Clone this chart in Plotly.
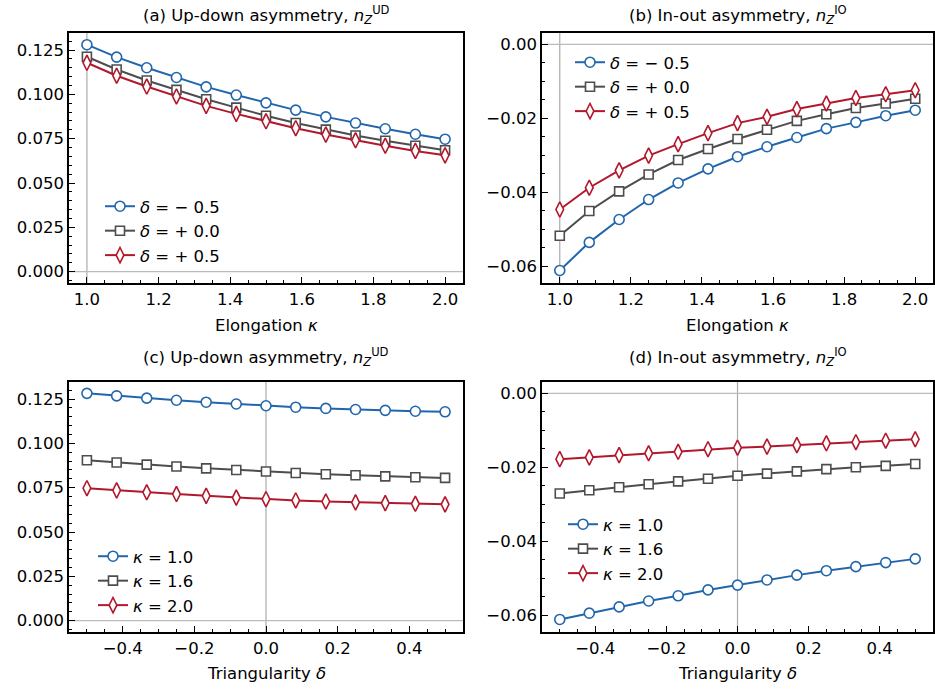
import plotly.graph_objects as go

# ---------------- data ----------------
kappa = [1.0, 1.083, 1.167, 1.25, 1.333, 1.417, 1.5, 1.583, 1.667, 1.75, 1.833, 1.917, 2.0]
delta = [-0.5, -0.417, -0.333, -0.25, -0.167, -0.083, 0.0, 0.083, 0.167, 0.25, 0.333, 0.417, 0.5]

# (a) up-down vs kappa
a_dm05 = [0.1280, 0.1210, 0.1150, 0.1095, 0.1042, 0.0996, 0.0952, 0.0911, 0.0873, 0.0838, 0.0806, 0.0775, 0.0747]
a_d00 = [0.1212, 0.1140, 0.1078, 0.1025, 0.0972, 0.0925, 0.0879, 0.0838, 0.0801, 0.0768, 0.0738, 0.0710, 0.0685]
a_dp05 = [0.1178, 0.1105, 0.1044, 0.0988, 0.0935, 0.0890, 0.0848, 0.0809, 0.0773, 0.0741, 0.0710, 0.0681, 0.0656]

# (b) in-out vs kappa
b_dm05 = [-0.0612, -0.0536, -0.0474, -0.0420, -0.0375, -0.0337, -0.0304, -0.0277, -0.0252, -0.0228, -0.0211, -0.0193, -0.0178]
b_d00 = [-0.0518, -0.0451, -0.0398, -0.0352, -0.0313, -0.0283, -0.0256, -0.0231, -0.0207, -0.0189, -0.0172, -0.0160, -0.0147]
b_dp05 = [-0.0447, -0.0388, -0.0341, -0.0301, -0.0270, -0.0240, -0.0213, -0.0196, -0.0175, -0.0160, -0.0145, -0.0135, -0.0124]

# (c) up-down vs delta
c_k10 = [0.1282, 0.1268, 0.1255, 0.1243, 0.1232, 0.1222, 0.1212, 0.1204, 0.1197, 0.1191, 0.1186, 0.1181, 0.1178]
c_k16 = [0.0905, 0.0892, 0.0880, 0.0869, 0.0859, 0.0850, 0.0841, 0.0833, 0.0826, 0.0820, 0.0814, 0.0809, 0.0805]
c_k20 = [0.0747, 0.0735, 0.0724, 0.0714, 0.0704, 0.0694, 0.0685, 0.0678, 0.0672, 0.0667, 0.0663, 0.0659, 0.0656]

# (d) in-out vs delta
d_k10 = [-0.0612, -0.0595, -0.0578, -0.0562, -0.0548, -0.0532, -0.0519, -0.0505, -0.0492, -0.0480, -0.0469, -0.0458, -0.0448]
d_k16 = [-0.0271, -0.0262, -0.0254, -0.0246, -0.0238, -0.0231, -0.0223, -0.0217, -0.0211, -0.0205, -0.0200, -0.0196, -0.0191]
d_k20 = [-0.0178, -0.0173, -0.0167, -0.0162, -0.0158, -0.0151, -0.0147, -0.0144, -0.0140, -0.0135, -0.0132, -0.0128, -0.0124]

delta_labels = ["<i>δ</i> = − 0.5", "<i>δ</i> = + 0.0", "<i>δ</i> = + 0.5"]
kappa_labels = ["<i>κ</i> = 1.0", "<i>κ</i> = 1.6", "<i>κ</i> = 2.0"]
titles = [
    "(a) Up-down asymmetry, <i>n</i><sub><i>Z</i></sub><sup>UD</sup>",
    "(b) In-out asymmetry, <i>n</i><sub><i>Z</i></sub><sup>IO</sup>",
    "(c) Up-down asymmetry, <i>n</i><sub><i>Z</i></sub><sup>UD</sup>",
    "(d) In-out asymmetry, <i>n</i><sub><i>Z</i></sub><sup>IO</sup>",
]
xlabels = ["Elongation <i>κ</i>", "Elongation <i>κ</i>", "Triangularity <i>δ</i>", "Triangularity <i>δ</i>"]

# ---------------- style ----------------
W, H = 935, 693
FONT = "DejaVu Sans"
FS = 16.5
colors = ["#2166ac", "#4d4d4d", "#b2182b"]
symbols = ["circle", "square", "diamond-tall"]
msizes = [10, 9, 11]

def px_x(p):
    return p / W

def px_y(p):
    return 1 - p / H

xdom_l = [px_x(69), px_x(463)]
xdom_r = [px_x(542), px_x(933)]
ydom_t = [px_y(283), px_y(33)]
ydom_b = [px_y(632), px_y(382)]

fig = go.Figure()

panels = [
    dict(x=kappa, ys=[a_dm05, a_d00, a_dp05], labels=delta_labels, xa="x", ya="y", leg="legend"),
    dict(x=kappa, ys=[b_dm05, b_d00, b_dp05], labels=delta_labels, xa="x2", ya="y2", leg="legend2"),
    dict(x=delta, ys=[c_k10, c_k16, c_k20], labels=kappa_labels, xa="x3", ya="y3", leg="legend3"),
    dict(x=delta, ys=[d_k10, d_k16, d_k20], labels=kappa_labels, xa="x4", ya="y4", leg="legend4"),
]

for p in panels:
    for i in range(3):
        fig.add_trace(go.Scatter(
            x=p["x"], y=p["ys"][i], name=p["labels"][i], mode="lines+markers",
            line=dict(color=colors[i], width=2),
            marker=dict(symbol=symbols[i], size=msizes[i], color="white",
                        line=dict(color=colors[i], width=1.6)),
            xaxis=p["xa"], yaxis=p["ya"], legend=p["leg"],
        ))

def xaxis(dom, rng, anchor, dtick):
    return dict(domain=dom, range=rng, anchor=anchor, showgrid=False, zeroline=False,
                showline=True, linecolor="black", linewidth=1.5, mirror=True,
                ticks="inside", ticklen=6, tickwidth=1.3, tickcolor="black",
                dtick=dtick, tick0=0, tickformat=".1f",
                minor=dict(ticks="inside", ticklen=3.5, tickwidth=1, tickcolor="black", dtick=0.05, tick0=0),
                tickfont=dict(family=FONT, size=FS, color="black"))

def yaxis(dom, rng, anchor, dtick, fmt):
    return dict(domain=dom, range=rng, anchor=anchor, showgrid=False, zeroline=False,
                showline=True, linecolor="black", linewidth=1.5, mirror=True,
                ticks="inside", ticklen=6, tickwidth=1.3, tickcolor="black",
                dtick=dtick, tick0=0, tickformat=fmt,
                minor=dict(ticks="inside", ticklen=3.5, tickwidth=1, tickcolor="black", dtick=0.005, tick0=0),
                tickfont=dict(family=FONT, size=FS, color="black"))

ud_range = [-0.0064, 0.1346]
io_range = [-0.0646, 0.0031]
k_range = [0.95, 2.05]
d_range = [-0.55, 0.55]

fig.update_layout(
    width=W, height=H, margin=dict(l=0, r=0, t=0, b=0),
    paper_bgcolor="white", plot_bgcolor="white",
    font=dict(family=FONT, size=FS, color="black"),
    xaxis=xaxis(xdom_l, k_range, "y", 0.2),
    yaxis=yaxis(ydom_t, ud_range, "x", 0.025, ".3f"),
    xaxis2=xaxis(xdom_r, k_range, "y2", 0.2),
    yaxis2=yaxis(ydom_t, io_range, "x2", 0.02, ".2f"),
    xaxis3=xaxis(xdom_l, d_range, "y3", 0.2),
    yaxis3=yaxis(ydom_b, ud_range, "x3", 0.025, ".3f"),
    xaxis4=xaxis(xdom_r, d_range, "y4", 0.2),
    yaxis4=yaxis(ydom_b, io_range, "x4", 0.02, ".2f"),
    showlegend=True,
)

leg_common = dict(xanchor="left", yanchor="top", bgcolor="rgba(0,0,0,0)", borderwidth=0,
                  font=dict(family=FONT, size=FS, color="black"), itemwidth=30,
                  tracegroupgap=0, traceorder="normal")
fig.update_layout(
    legend=dict(x=px_x(100), y=px_y(189), **leg_common),
    legend2=dict(x=px_x(570), y=px_y(45), **leg_common),
    legend3=dict(x=px_x(93), y=px_y(539), **leg_common),
    legend4=dict(x=px_x(563), y=px_y(507), **leg_common),
)

# reference lines
refs = [("x", "y", 1.0), ("x2", "y2", 1.0), ("x3", "y3", 0.0), ("x4", "y4", 0.0)]
for xa, ya, xv in refs:
    fig.add_shape(type="line", xref=xa, yref=ya + " domain", x0=xv, x1=xv, y0=0, y1=1,
                  line=dict(color="#aaaaaa", width=1.2), layer="below")
    fig.add_shape(type="line", xref=xa + " domain", yref=ya, x0=0, x1=1, y0=0, y1=0,
                  line=dict(color="#bbbbbb", width=1.2), layer="below")

# titles and x labels
centers = [(xdom_l[0] + xdom_l[1]) / 2, (xdom_r[0] + xdom_r[1]) / 2] * 2
title_y = [px_y(15), px_y(15), px_y(357), px_y(357)]
xlab_y = [px_y(325), px_y(325), px_y(673), px_y(673)]
for i in range(4):
    fig.add_annotation(text=titles[i], x=centers[i], y=title_y[i], xref="paper", yref="paper",
                       xanchor="center", yanchor="middle", showarrow=False,
                       font=dict(family=FONT, size=FS, color="black"))
    fig.add_annotation(text=xlabels[i], x=centers[i], y=xlab_y[i], xref="paper", yref="paper",
                       xanchor="center", yanchor="middle", showarrow=False,
                       font=dict(family=FONT, size=FS, color="black"))

fig.write_html("out.html", config={"displayModeBar": False},
               post_script="document.body.style.margin='0px';document.body.style.overflow='hidden';")
